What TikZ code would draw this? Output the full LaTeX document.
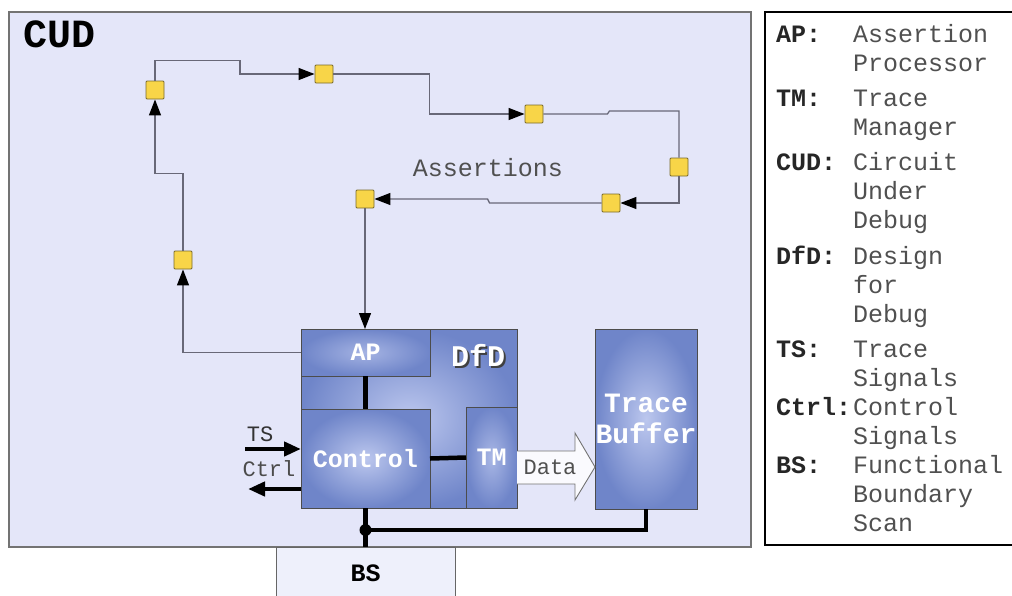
\documentclass[tikz,border=0pt]{standalone}
\usepackage{fontspec}
\setmonofont{Liberation Mono}
\usetikzlibrary{arrows.meta,positioning,calc}
\definecolor{cudfill}{HTML}{E4E6F9}
\definecolor{bsfill}{HTML}{EEF0FB}
\definecolor{cyellow}{HTML}{F8D548}
\definecolor{cyedge}{HTML}{7A6A2A}
\definecolor{cwire}{HTML}{686878}
\definecolor{cblueout}{HTML}{6F85C9}
\definecolor{cbluein}{HTML}{BCC7EE}
\definecolor{ctext}{HTML}{505050}

\begin{document}
\begin{tikzpicture}[x=1pt,y=-1pt,font=\ttfamily]
  \tikzstyle{blk}=[draw=black!70,line width=0.8pt,inner color=cbluein,outer color=cblueout,outer sep=0pt,inner sep=0pt,text=white,font=\ttfamily\bfseries\fontsize{25}{29}\selectfont]
  \tikzstyle{port}=[draw=cyedge,fill=cyellow,line width=0.9pt,minimum size=18pt,inner sep=0pt,rounded corners=1pt]
  \tikzstyle{wire}=[draw=cwire,line width=1.3pt,-{Triangle[length=16pt,width=12pt,color=black]}]
  \tikzstyle{bus}=[line width=4.5pt]
  \tikzstyle{sig}=[line width=4.5pt,-{Triangle[length=17pt,width=14pt]}]
  \tikzstyle{legkey}=[anchor=base west,inner sep=0pt,text=black!85,font=\ttfamily\bfseries\fontsize{25}{29}\selectfont]
  \tikzstyle{legtxt}=[anchor=base west,inner sep=0pt,text=ctext,font=\ttfamily\fontsize{25}{29}\selectfont]
  \useasboundingbox (0,0) rectangle (1012,595);

  % circuit under debug
  \node[draw=black!55,line width=1.2pt,fill=cudfill,minimum width=742pt,minimum height=535pt,outer sep=0pt] (cud) at (380,279.5) {};
  \node[font=\ttfamily\bfseries\fontsize{40}{44}\selectfont] (cudlbl) at (60,34) {CUD};
  % boundary scan
  \node[draw=black!60,line width=1pt,fill=bsfill,minimum width=179pt,minimum height=53pt,outer sep=0pt,font=\ttfamily\bfseries\fontsize{25}{29}\selectfont] (bs) at (365.5,573.5) {BS};
  % legend
  \node[draw=black,line width=1.8pt,minimum width=255pt,minimum height=533pt,outer sep=0pt] (leg) at (892.5,278.5) {};

  % DfD block
  \node[blk,minimum width=216pt,minimum height=179pt] (dfd) at (409,418.5) {};
  \node[text=black!75,font=\ttfamily\bfseries\fontsize{30}{34}\selectfont] at (480,357) {DfD};
  \node[text=white,font=\ttfamily\bfseries\fontsize{30}{34}\selectfont] (dfdlbl) at (478,355) {DfD};
  \node[blk,minimum width=129pt,minimum height=47pt,inner color=cbluein!70!cblueout] (ap) at (365.5,352.5) {AP};
  \node[blk,minimum width=129pt,minimum height=99pt] (ctl) at (365.5,458.5) {Control};
  \node[blk,minimum width=51pt,minimum height=101pt,inner color=cbluein!75!cblueout] (tm) at (491.5,457.5) {TM};
  \node[blk,minimum width=102pt,minimum height=180pt,align=center,font=\ttfamily\bfseries\fontsize{28}{31}\selectfont] (tb) at (646,419) {Trace\\Buffer};

  % assertion ring
  \node[port] (s1) at (155,90) {};
  \node[port] (s2) at (324,74) {};
  \node[port] (s3) at (534,114) {};
  \node[port] (s4) at (679,167) {};
  \node[port] (s5) at (611,203) {};
  \node[port] (s6) at (365,199) {};
  \node[port] (s7) at (183,260) {};
  \node[text=ctext,font=\ttfamily\fontsize{25}{29}\selectfont] (asrt) at (488,168) {Assertions};

  \draw[wire] (ap.west) -| (s7.south);
  \draw[wire] (s7.north) -- ++(0,-77) -| (s1.south);
  \draw[wire] (s1.north) -- ++(0,-20) -- ++(85,0) |- (s2.west);
  \draw[wire] (s2.east) -- ++(96,0) |- (s3.west);
  \draw[wire,-] (s3.east) -- ++(64,0) -- ++(2,-3) -| (s4.north);
  \draw[wire] (s4.south) |- (s5.east);
  \draw[wire] (s5.west) -- ++(-112,0) -- ++(-2,-4) -- (s6.east);
  \draw[wire] (s6.south) -- (s6.south |- ap.north);

  % internal buses
  \draw[bus] (ap.south) -- (ctl.north);
  \draw[bus] (ctl.east) -- (tm.west);
  \coordinate (jn) at (365.5,530);
  \draw[bus] (ctl.south) -- (bs.north);
  \draw[bus] (jn) -| (tb.south);
  \fill (jn) circle (6pt);

  % data arrow
  \draw[draw=black!55,line width=0.9pt,fill=white!70!bsfill] (tm.east |- 0,451) -- (575,451) -- (575,433) -- (tb.west |- 0,467) -- (575,500) -- (575,484) -- (tm.east |- 0,484);
  \node[text=ctext,font=\ttfamily\fontsize{22}{26}\selectfont] (data) at (550,467) {Data};

  % trace / control signals
  \coordinate (tsin) at (245,449);
  \coordinate (ctrlout) at (248,489);
  \draw[sig] (tsin) -- (tsin -| ctl.west);
  \draw[sig] (ctrlout -| ctl.west) -- (ctrlout);
  \node[text=black!80,font=\ttfamily\fontsize{22}{26}\selectfont] (tslbl) at (260,434) {TS};
  \node[text=black!70,font=\ttfamily\fontsize{22}{26}\selectfont] (ctrllbl) at (269,469) {Ctrl};

  % legend entries
  \foreach \y/\k in {42/AP:,106/TM:,170/CUD:,264/DfD:,357/TS:,415/Ctrl:,473/BS:}
    \node[legkey] at (776,\y) {\k};
  \foreach \y/\t in {42/Assertion,71/Processor,106/Trace,135/Manager,170/Circuit,199/Under,228/Debug,264/Design,293/for,322/Debug,357/Trace,386/Signals,415/Control,444/Signals,473/Functional,502/Boundary,531/Scan}
    \node[legtxt] at (853,\y) {\t};
\end{tikzpicture}
\end{document}
